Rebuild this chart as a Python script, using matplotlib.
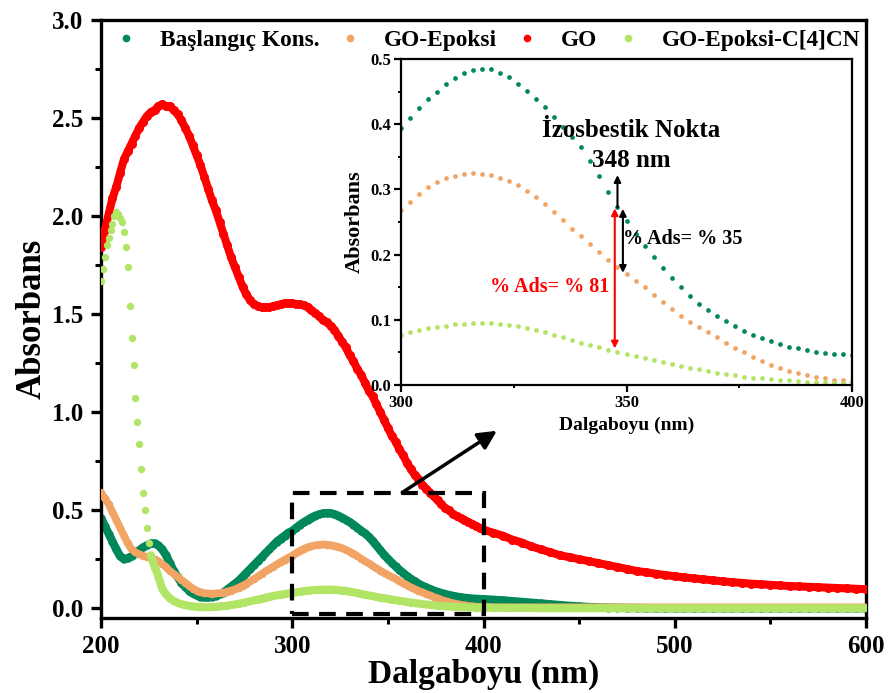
import numpy as np
import matplotlib
matplotlib.use("Agg")
import matplotlib.pyplot as plt
from matplotlib.lines import Line2D
from matplotlib.patches import Rectangle
from matplotlib.ticker import MultipleLocator, FormatStrFormatter

plt.rcParams['font.family'] = ['Liberation Serif', 'DejaVu Serif']
plt.rcParams['font.weight'] = 'bold'

# ---------------- data ----------------
labels = ["Başlangıç Kons.", "GO-Epoksi", "GO", "GO-Epoksi-C[4]CN"]
colors = ["#00875A", "#F2A465", "#FF0000", "#B2E465"]

wl_a = np.arange(200, 300, 2)      # 200..298
wl_b = np.arange(300, 402, 2)      # 300..400 (also inset)
wl_c = np.arange(405, 601, 5)      # 405..600
wl_lg_early = np.arange(200, 231, 1)
wl_lg_a = np.arange(232, 300, 2)

go_a = [1.84, 1.93, 2.01, 2.09, 2.15, 2.22, 2.29, 2.33, 2.37, 2.41,
        2.45, 2.48, 2.51, 2.53, 2.54, 2.56, 2.57, 2.56, 2.56, 2.54,
        2.52, 2.49, 2.45, 2.41, 2.36, 2.31, 2.26, 2.20, 2.14, 2.08,
        2.03, 1.97, 1.91, 1.85, 1.79, 1.74, 1.69, 1.64, 1.60, 1.57,
        1.55, 1.54, 1.535, 1.535, 1.535, 1.54, 1.545, 1.55, 1.555, 1.555]
go_b = [1.555, 1.55, 1.55, 1.545, 1.535, 1.52, 1.505, 1.49, 1.47, 1.46,
        1.44, 1.42, 1.39, 1.36, 1.33, 1.29, 1.26, 1.22, 1.19, 1.15,
        1.11, 1.08, 1.04, 1.00, 0.96, 0.92, 0.88, 0.85, 0.81, 0.78,
        0.74, 0.71, 0.68, 0.66, 0.63, 0.61, 0.59, 0.57, 0.55, 0.53,
        0.51, 0.50, 0.48, 0.47, 0.46, 0.45, 0.44, 0.43, 0.42, 0.41, 0.40]
go_c = [0.385, 0.37, 0.35, 0.335, 0.315, 0.30, 0.285, 0.27, 0.26, 0.25,
        0.24, 0.23, 0.22, 0.21, 0.20, 0.19, 0.183, 0.176, 0.169, 0.163,
        0.157, 0.152, 0.147, 0.142, 0.137, 0.133, 0.129, 0.125, 0.122, 0.119,
        0.116, 0.113, 0.111, 0.109, 0.107, 0.105, 0.103, 0.101, 0.099, 0.097]

bas_a = [0.46, 0.42, 0.38, 0.34, 0.30, 0.265, 0.25, 0.255, 0.265, 0.28,
         0.295, 0.31, 0.32, 0.33, 0.33, 0.32, 0.30, 0.27, 0.23, 0.19,
         0.16, 0.13, 0.11, 0.09, 0.075, 0.065, 0.058, 0.055, 0.055, 0.058,
         0.063, 0.07, 0.08, 0.095, 0.11, 0.125, 0.14, 0.16, 0.18, 0.20,
         0.22, 0.24, 0.26, 0.28, 0.30, 0.32, 0.34, 0.355, 0.37, 0.385]
bas_b = [0.394, 0.41, 0.425, 0.438, 0.45, 0.462, 0.471, 0.478, 0.483, 0.485,
         0.484, 0.479, 0.472, 0.462, 0.451, 0.439, 0.426, 0.411, 0.396, 0.381,
         0.365, 0.343, 0.32, 0.296, 0.273, 0.252, 0.232, 0.213, 0.196, 0.180,
         0.164, 0.150, 0.137, 0.125, 0.115, 0.106, 0.098, 0.090, 0.083, 0.077,
         0.072, 0.067, 0.063, 0.059, 0.056, 0.053, 0.051, 0.049, 0.048, 0.047, 0.046]
bas_c = [0.043, 0.040, 0.036, 0.032, 0.028, 0.024, 0.020, 0.016, 0.012, 0.009,
         0.006, 0.004, 0.003, 0.002, 0.001, 0.001, 0.0, 0.0, 0.0, 0.0,
         0.0, 0.0, 0.0, 0.0, 0.0, 0.0, 0.0, 0.0, 0.0, 0.0,
         0.0, 0.0, 0.0, 0.0, 0.0, 0.0, 0.0, 0.0, 0.0, 0.0]

epo_a = [0.59, 0.56, 0.53, 0.49, 0.45, 0.41, 0.37, 0.33, 0.30, 0.285,
         0.275, 0.268, 0.262, 0.256, 0.25, 0.24, 0.225, 0.21, 0.19, 0.175,
         0.16, 0.145, 0.13, 0.115, 0.10, 0.09, 0.082, 0.077, 0.075, 0.074,
         0.075, 0.077, 0.08, 0.085, 0.09, 0.097, 0.105, 0.115, 0.125, 0.137,
         0.15, 0.162, 0.175, 0.188, 0.20, 0.212, 0.224, 0.236, 0.247, 0.258]
epo_b = [0.268, 0.281, 0.293, 0.303, 0.311, 0.317, 0.321, 0.324, 0.325, 0.324,
         0.322, 0.318, 0.313, 0.306, 0.298, 0.289, 0.278, 0.266, 0.253, 0.240,
         0.228, 0.216, 0.204, 0.192, 0.181, 0.170, 0.160, 0.150, 0.138, 0.127,
         0.116, 0.106, 0.097, 0.089, 0.081, 0.073, 0.065, 0.057, 0.050, 0.043,
         0.037, 0.031, 0.026, 0.022, 0.018, 0.015, 0.012, 0.010, 0.008, 0.007, 0.006]
epo_c = [0.005, 0.005, 0.005, 0.005, 0.005, 0.005, 0.005, 0.005, 0.005, 0.005,
         0.005, 0.005, 0.005, 0.005, 0.005, 0.005, 0.005, 0.005, 0.005, 0.005,
         0.005, 0.005, 0.005, 0.005, 0.005, 0.005, 0.005, 0.005, 0.005, 0.005,
         0.005, 0.005, 0.005, 0.005, 0.005, 0.005, 0.005, 0.005, 0.005, 0.005]

lg_early = [1.67, 1.73, 1.79, 1.85, 1.89, 1.93, 1.96, 2.00, 2.02, 2.01,
            1.99, 1.97, 1.92, 1.84, 1.74, 1.54, 1.38, 1.24, 1.07, 0.95,
            0.84, 0.71, 0.59, 0.50, 0.41, 0.33, 0.27, 0.24, 0.21, 0.19, 0.16]
lg_a = [0.10, 0.07, 0.05, 0.037, 0.028, 0.021, 0.016, 0.012, 0.009, 0.007,
        0.006, 0.005, 0.005, 0.006, 0.007, 0.009, 0.011, 0.013, 0.016, 0.019,
        0.023, 0.027, 0.031, 0.035, 0.04, 0.044, 0.049, 0.053, 0.058, 0.062,
        0.066, 0.069, 0.072, 0.075]
lg_b = [0.077, 0.081, 0.084, 0.087, 0.089, 0.091, 0.093, 0.094, 0.095, 0.095,
        0.095, 0.094, 0.092, 0.090, 0.088, 0.085, 0.081, 0.077, 0.073, 0.069,
        0.065, 0.062, 0.058, 0.054, 0.051, 0.048, 0.044, 0.041, 0.038, 0.035,
        0.032, 0.029, 0.026, 0.024, 0.021, 0.019, 0.017, 0.015, 0.013, 0.011,
        0.010, 0.009, 0.008, 0.007, 0.006, 0.005, 0.004, 0.004, 0.003, 0.003, 0.003]
lg_c = [0.002, 0.002, 0.001, 0.001, 0.001, 0.0, 0.0, 0.0, 0.0, 0.0,
        0.0, 0.0, 0.0, 0.0, 0.0, 0.0, 0.0, 0.0, 0.0, 0.0,
        0.0, 0.0, 0.0, 0.0, 0.0, 0.0, 0.0, 0.0, 0.0, 0.0,
        0.0, 0.0, 0.0, 0.0, 0.0, 0.0, 0.0, 0.0, 0.0, 0.0]

# ---------------- figure ----------------
W, H = 889, 693
fig = plt.figure(figsize=(W / 100, H / 100), dpi=100)
ax = fig.add_axes([101 / W, 1 - 618 / H, (866 - 101) / W, (618 - 20) / H])

wl_main = np.concatenate([wl_a, wl_b, wl_c])
series = [
    (wl_main, np.concatenate([bas_a, bas_b, bas_c]), colors[0], 6.0, 6.0),
    (wl_main, np.concatenate([epo_a, epo_b, epo_c]), colors[1], 5.4, 5.5),
    (wl_main, np.concatenate([go_a, go_b, go_c]), colors[2], 5.8, 6.5),
]
for i, (x, y, c, lw, ms) in enumerate(series):
    ax.plot(x, y, '-', color=c, lw=lw, solid_capstyle='round',
            solid_joinstyle='round', zorder=2 + i)
    ax.plot(x, y, 'o', color=c, ms=ms, mec='none', zorder=2 + i)

wl_lg = np.concatenate([wl_lg_early, wl_lg_a, wl_b, wl_c])
y_lg = np.concatenate([lg_early, lg_a, lg_b, lg_c])
mask = wl_lg >= 226
ax.plot(wl_lg[mask], y_lg[mask], '-', color=colors[3], lw=5.8,
        solid_capstyle='round', zorder=6)
ax.plot(wl_lg, y_lg, 'o', color=colors[3], ms=5.3, mec='none', zorder=6)

ax.set_xlim(200, 600)
ax.set_ylim(-0.05, 3.0)
ax.xaxis.set_major_locator(MultipleLocator(100))
ax.xaxis.set_minor_locator(MultipleLocator(50))
ax.yaxis.set_major_locator(MultipleLocator(0.5))
ax.yaxis.set_minor_locator(MultipleLocator(0.25))
ax.yaxis.set_major_formatter(FormatStrFormatter('%.1f'))
for s in ax.spines.values():
    s.set_linewidth(2.4)
ax.tick_params(which='major', direction='out', length=7.5, width=2.4,
               labelsize=18, pad=5)
ax.tick_params(which='minor', direction='out', length=4, width=2.2)
ax.set_xlabel("Dalgaboyu (nm)", fontsize=24, fontweight='bold', labelpad=0)
ax.set_ylabel("Absorbans", fontsize=25, fontweight='bold', labelpad=3)

# legend
handles = [Line2D([], [], ls='none', marker='o', ms=5.5, mfc=c, mec='none')
           for c in colors]
ax.legend(handles, labels, ncol=4, frameon=False, loc='center left',
          bbox_to_anchor=(0.017, 0.966), handlelength=1.0,
          handletextpad=0.95, columnspacing=0.82, borderpad=0, borderaxespad=0,
          prop={'weight': 'bold', 'size': 16.8})

# dashed box and arrow
ax.add_patch(Rectangle((300, -0.03), 100, 0.62, fill=False, ec='black',
                       lw=3, ls=(0, (4, 2.5)), zorder=8))
ax.annotate('', xy=(407, 0.905), xytext=(357.5, 0.59),
            arrowprops=dict(arrowstyle='-|>', lw=2.5, color='black',
                            mutation_scale=28, shrinkA=0, shrinkB=0), zorder=9)

# ---------------- inset ----------------
axi = fig.add_axes([401 / W, 1 - 385 / H, 451 / W, 326 / H])
axi.plot(wl_b, bas_b, 'o', color=colors[0], ms=3.4, mec='none')
axi.plot(wl_b, epo_b, 'o', color=colors[1], ms=3.4, mec='none')
axi.plot(wl_b, lg_b, 'o', color=colors[3], ms=3.4, mec='none')
axi.set_xlim(300, 400)
axi.set_ylim(0, 0.5)
axi.xaxis.set_major_locator(MultipleLocator(50))
axi.xaxis.set_minor_locator(MultipleLocator(25))
axi.yaxis.set_major_locator(MultipleLocator(0.1))
axi.yaxis.set_minor_locator(MultipleLocator(0.05))
axi.yaxis.set_major_formatter(FormatStrFormatter('%.1f'))
for s in axi.spines.values():
    s.set_linewidth(1.6)
axi.tick_params(which='major', direction='out', length=5, width=1.6,
                labelsize=12, pad=2)
axi.tick_params(which='minor', direction='out', length=2.5, width=1.4)
axi.set_xlabel("Dalgaboyu (nm)", fontsize=14, fontweight='bold', labelpad=4)
axi.set_ylabel("Absorbans", fontsize=16, fontweight='bold', labelpad=4)

axi.text(351, 0.391, "İzosbestik Nokta", ha='center', va='center',
         fontsize=18, fontweight='bold')
axi.text(351, 0.345, "348 nm", ha='center', va='center',
         fontsize=18, fontweight='bold')
axi.text(349.3, 0.224, "% Ads= % 35", ha='left', va='center',
         fontsize=14.5, fontweight='bold', color='black')
axi.text(346.2, 0.150, "% Ads= % 81", ha='right', va='center',
         fontsize=14.5, fontweight='bold', color='red')

axi.annotate('', xy=(348, 0.322), xytext=(348, 0.272),
             arrowprops=dict(arrowstyle='-|>', lw=1.5, color='black',
                             mutation_scale=10, shrinkA=0, shrinkB=0))
axi.annotate('', xy=(349.2, 0.172), xytext=(349.2, 0.270),
             arrowprops=dict(arrowstyle='<|-|>', lw=1.5, color='black',
                             mutation_scale=10, shrinkA=0, shrinkB=0))
axi.annotate('', xy=(347.4, 0.056), xytext=(347.4, 0.271),
             arrowprops=dict(arrowstyle='<|-|>', lw=1.5, color='red',
                             mutation_scale=10, shrinkA=0, shrinkB=0))

fig.savefig("out.png", dpi=100)
